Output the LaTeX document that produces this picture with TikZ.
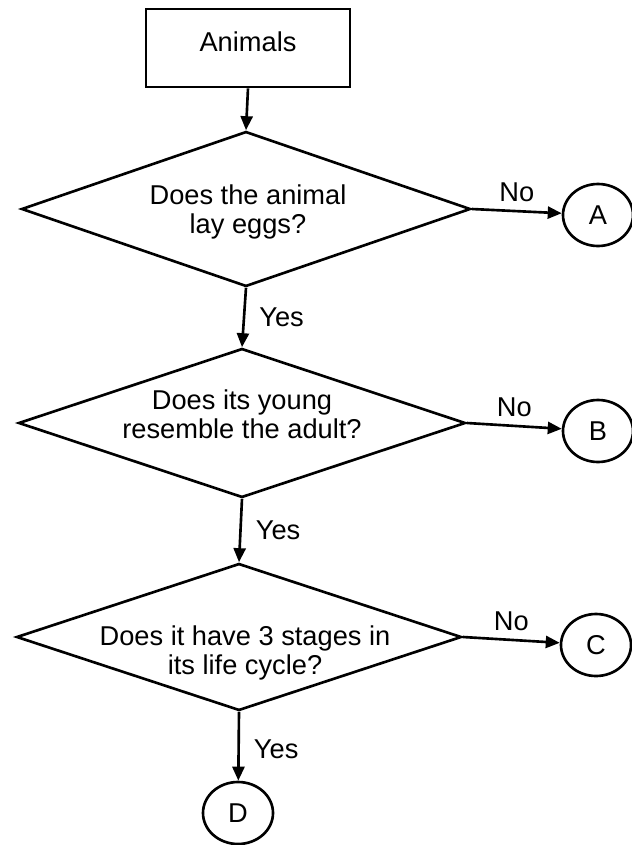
\documentclass[tikz,border=0pt]{standalone}
\usepackage{fontspec}
\setmainfont{Liberation Sans}
\usetikzlibrary{shapes.geometric,arrows.meta}

\begin{document}
\begin{tikzpicture}[scale=0.2,
  every node/.append style={font=\fontsize{15.5}{16.5}\selectfont},
  startbox/.style={draw,rectangle,line width=1.5pt,minimum width=4.08cm,minimum height=1.56cm,text depth=0.24cm},
  query/.style={draw,diamond,line width=1.5pt,inner sep=0pt},
  qtext/.style={align=center,inner sep=0pt},
  endpt/.style={draw,ellipse,line width=1.5pt,minimum width=1.4cm,minimum height=1.24cm,inner sep=0pt},
  arr/.style={line width=1.5pt,-{Triangle[length=0.28cm,width=0.24cm]}},
  yeslab/.style={right=0.28cm,inner sep=0pt},
  nolab/.style={above=0.16cm,inner sep=0pt}]
\useasboundingbox (0,0) rectangle (63.1,-84.5);
\node[startbox] (animals) at (24.8,-4.8) {Animals};
\node[query,minimum width=8.98cm,minimum height=3.1cm] (eggs) at (24.6,-20.9) {};
\node[qtext] (eggsq) at (24.8,-21.2) {Does the animal\\lay eggs?};
\node[query,minimum width=8.94cm,minimum height=2.98cm] (young) at (24.2,-42.3) {};
\node[qtext] (youngq) at (24.2,-41.4) {Does its young\\resemble the adult?};
\node[query,minimum width=8.9cm,minimum height=2.94cm] (stages) at (23.9,-63.7) {};
\node[qtext] (stagesq) at (24.5,-65.3) {Does it have 3 stages in\\its life cycle?};
\node[endpt] (A) at (59.8,-21.5) {A};
\node[endpt] (B) at (59.8,-43.1) {B};
\node[endpt] (C) at (59.6,-64.5) {C};
\node[endpt] (D) at (23.8,-81.3) {D};
\draw[arr] (animals.south) -- (eggs.north);
\draw[arr] (eggs.south) -- node[yeslab] {Yes} (young.north);
\draw[arr] (young.south) -- node[yeslab] {Yes} (stages.north);
\draw[arr] (stages.south) -- node[yeslab,pos=0.55] {Yes} (D);
\draw[arr] (eggs.east) -- node[nolab] {No} (A);
\draw[arr] (young.east) -- node[nolab] {No} (B);
\draw[arr] (stages.east) -- node[nolab] {No} (C);
\end{tikzpicture}
\end{document}
